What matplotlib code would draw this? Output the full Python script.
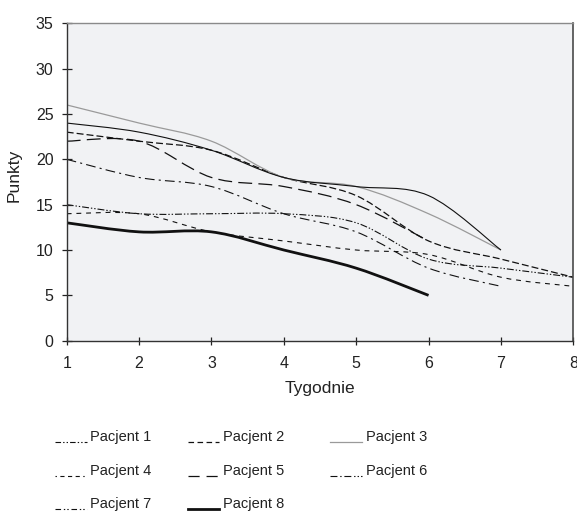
import matplotlib
matplotlib.use("Agg")
import matplotlib.pyplot as plt
from matplotlib.path import Path
from matplotlib.patches import PathPatch
from matplotlib.lines import Line2D

plt.rcParams["font.family"] = ["Liberation Sans", "DejaVu Sans"]
plt.rcParams["lines.scale_dashes"] = False

# Weekly scores per patient
weeks = [1, 2, 3, 4, 5, 6, 7, 8]
pacjent_1 = [15, 14, 14, 14, 13, 9, 8, 7]
pacjent_2 = [23, 22, 21, 18, 16, 11, 9, 7]
pacjent_3 = [26, 24, 22, 18, 17, 14, 10]
pacjent_4 = [14, 14, 12, 11, 10, 9.5, 7, 6]
pacjent_5 = [22, 22, 18, 17, 15, 11]
pacjent_6 = [20, 18, 17, 14, 12, 8, 6]
pacjent_7 = [24, 23, 21, 18, 17, 16, 10]
pacjent_8 = [13, 12, 12, 10, 8, 5]

labels = ["Pacjent 1", "Pacjent 2", "Pacjent 3", "Pacjent 4",
          "Pacjent 5", "Pacjent 6", "Pacjent 7", "Pacjent 8"]
series = [pacjent_1, pacjent_2, pacjent_3, pacjent_4,
          pacjent_5, pacjent_6, pacjent_7, pacjent_8]

x_ticks = [1, 2, 3, 4, 5, 6, 7, 8]
y_ticks = [0, 5, 10, 15, 20, 25, 30, 35]

# line appearance in the plot: (color, width, linestyle)
plot_styles = [
    ("#111111", 0.8, (0, (5, 1.4, 1, 1.4, 1, 1.4))),
    ("#111111", 0.9, (0, (5, 2.2))),
    ("#9a9a9a", 0.9, "-"),
    ("#111111", 0.8, (0, (3.5, 3.5))),
    ("#111111", 0.9, (0, (10, 4.5))),
    ("#111111", 0.8, (0, (7, 3, 1.5, 3))),
    ("#111111", 0.8, "-"),
    ("#111111", 2.0, "-"),
]
# key samples
key_styles = [
    ("#111111", 0.8, (0, (4, 1.5, 1, 1.5, 1, 1.5))),
    ("#111111", 0.9, (0, (4, 2.5))),
    ("#9a9a9a", 0.9, "-"),
    ("#111111", 0.8, (0, (1, 2.5, 3, 2.5, 3, 2.5, 3, 2.5))),
    ("#111111", 0.9, (0, (8, 5))),
    ("#111111", 0.8, (0, (5, 2, 1, 2, 5, 2, 1, 1.5, 1, 1.5))),
    ("#111111", 0.8, (0, (4, 2, 1, 1.5, 1, 2))),
    ("#111111", 2.0, "-"),
]


def smooth_path(xs, ys):
    """Cubic Bezier path through the points (Catmull-Rom style smoothing)."""
    pts = list(zip(xs, ys))
    n = len(pts)
    verts = [pts[0]]
    codes = [Path.MOVETO]
    for i in range(n - 1):
        a = pts[i - 1] if i > 0 else pts[i]
        b = pts[i]
        c = pts[i + 1]
        d = pts[i + 2] if i + 2 < n else pts[i + 1]
        c1 = (b[0] + (c[0] - a[0]) / 6.0, b[1] + (c[1] - a[1]) / 6.0)
        c2 = (c[0] - (d[0] - b[0]) / 6.0, c[1] - (d[1] - b[1]) / 6.0)
        verts += [c1, c2, c]
        codes += [Path.CURVE4] * 3
    return Path(verts, codes)


W, H = 577, 515
fig = plt.figure(figsize=(W / 100, H / 100), dpi=100)
ax = fig.add_axes([66.7 / W, 1 - 340.7 / H, (573.3 - 66.7) / W, (340.7 - 23.3) / H])
ax.set_facecolor("#f1f2f4")

for vals, (col, lw, ls) in zip(series, plot_styles):
    xs = weeks[:len(vals)]
    patch = PathPatch(smooth_path(xs, vals), fill=False, edgecolor=col,
                      linewidth=lw, linestyle=ls, capstyle="butt",
                      joinstyle="round")
    ax.add_patch(patch)

ax.set_xlim(1, 8)
ax.set_ylim(0, 35)
ax.set_xticks(x_ticks)
ax.set_yticks(y_ticks)
ax.tick_params(axis="both", labelsize=11.5, colors="#222222", width=0.9)
ax.tick_params(axis="y", direction="inout", length=7, pad=6)
ax.tick_params(axis="x", direction="inout", length=6, pad=8)

for side in ("left", "bottom"):
    ax.spines[side].set_color("#333333")
    ax.spines[side].set_linewidth(1.0)
ax.spines["top"].set_color("#8a8a8a")
ax.spines["top"].set_linewidth(1.0)
ax.spines["right"].set_color("#4a4a4a")
ax.spines["right"].set_linewidth(1.2)

ax.set_xlabel("Tygodnie", fontsize=12.5, color="#222222", labelpad=7)
ax.set_ylabel("Punkty", fontsize=12.5, color="#222222", labelpad=11)
ax.yaxis.set_label_coords(-0.088, 0.52)

# key below the chart, three columns
col_handle_x = [(55, 87), (188, 219), (330, 362)]
col_text_x = [90, 223, 366]
row_text_y = [437, 471, 504]
for i, (lab, (col, lw, ls)) in enumerate(zip(labels, key_styles)):
    r, c = divmod(i, 3)
    x0, x1 = col_handle_x[c]
    ty = row_text_y[r]
    hy = ty + 5
    fig.add_artist(Line2D([x0 / W, x1 / W], [1 - hy / H, 1 - hy / H],
                          transform=fig.transFigure, color=col,
                          linewidth=lw, linestyle=ls))
    fig.text(col_text_x[c] / W, 1 - ty / H, lab, fontsize=10.5,
             color="#222222", ha="left", va="center")

fig.savefig("out.png", dpi=100)
